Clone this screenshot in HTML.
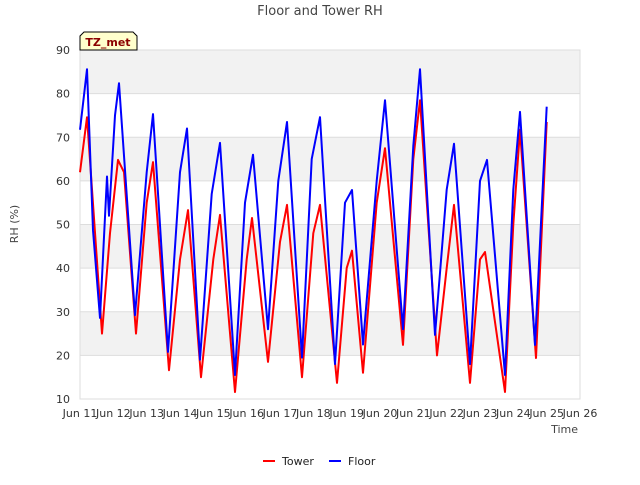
<!DOCTYPE html>
<html><head><meta charset="utf-8"><style>
body{margin:0;background:#fff;font-family:"Liberation Sans","DejaVu Sans",sans-serif}
svg text{font-family:"DejaVu Sans","Liberation Sans",sans-serif}
</style></head><body>
<svg id="c" width="640" height="480" xmlns="http://www.w3.org/2000/svg">
<text x="320" y="15" text-anchor="middle" font-size="13" fill="#444">Floor and Tower RH</text>
<g id="grid"></g>
<g id="axes"></g>
<g id="series"></g>
<g>
<path d="M80,50 L80,36 L84,32 L133,32 L137,36 L137,50 Z" fill="#ffffcc" stroke="#000" stroke-width="1"/>
<text x="108" y="46" text-anchor="middle" font-size="11" font-weight="bold" fill="#8b0000">TZ_met</text>
</g>
<text transform="translate(18,224) rotate(-90)" text-anchor="middle" font-size="11" fill="#444">RH (%)</text>
<text x="578" y="433" text-anchor="end" font-size="11" fill="#444">Time</text>
<g>
<line x1="263" y1="461" x2="275" y2="461" stroke="#ff0000" stroke-width="2"/>
<text x="282" y="465" font-size="11" fill="#222">Tower</text>
<line x1="329" y1="461" x2="341" y2="461" stroke="#0000ff" stroke-width="2"/>
<text x="348" y="465" font-size="11" fill="#222">Floor</text>
</g>
</svg>
<script>
const yTicks=[10,20,30,40,50,60,70,80,90];
const xTickLabels=["Jun 11","Jun 12","Jun 13","Jun 14","Jun 15","Jun 16","Jun 17","Jun 18","Jun 19","Jun 20","Jun 21","Jun 22","Jun 23","Jun 24","Jun 25","Jun 26"];
// day offsets since Jun 11 00:00
const floorDays=[0,0.21,0.39,0.6,0.81,0.87,1.05,1.17,1.65,2.0,2.19,2.64,3.0,3.21,3.6,3.95,4.2,4.65,4.95,5.19,5.64,5.95,6.21,6.66,6.95,7.2,7.65,7.95,8.16,8.49,8.9,9.15,9.69,10.0,10.2,10.65,11.0,11.22,11.7,12.0,12.21,12.75,13.0,13.2,13.65,14.0];
const floorVals=[71.7,85.6,48.7,28.6,61,52,75,82.4,29.2,62,75.3,20.8,62,72,19,57,68.7,15.5,55,66,26,60,73.5,19.5,65,74.6,18,55,57.9,22.5,60,78.5,26,68,85.6,24.7,58,68.5,18,60,64.8,15.5,58,75.8,22.4,77];
const towerDays=[0,0.21,0.66,0.9,1.14,1.32,1.68,2.0,2.19,2.67,3.0,3.24,3.63,4.0,4.2,4.65,5.0,5.16,5.64,6.0,6.21,6.66,7.0,7.2,7.71,8.0,8.16,8.49,8.9,9.15,9.69,10.0,10.2,10.71,11.0,11.22,11.7,12.0,12.15,12.75,13.0,13.2,13.68,14.0];
const towerVals=[62,74.6,25,48,64.8,62,25,55,64.3,16.6,42,53.3,15,42,52.2,11.6,42,51.5,18.5,46,54.5,15,48,54.5,13.7,40,44,16,55,67.5,22.4,65,78.5,20,40,54.5,13.7,42,43.7,11.6,50,71.7,19.4,73.5];
const NS="http://www.w3.org/2000/svg";
const X0=80,X1=580,Y0=399,Y1=50;
function xs(d){return X0+(X1-X0)*d/15;}
function ys(v){return Y0-(Y0-Y1)*(v-10)/80;}
function mk(t,a,p){const e=document.createElementNS(NS,t);for(const k in a)e.setAttribute(k,a[k]);p.appendChild(e);return e;}
const grid=document.getElementById('grid'),axes=document.getElementById('axes'),ser=document.getElementById('series');
for(let i=0;i<yTicks.length-1;i++){
 const r=mk('rect',{x:X0,y:ys(yTicks[i+1]),width:X1-X0,height:ys(yTicks[i])-ys(yTicks[i+1]),fill:(i%2==1)?'#f2f2f2':'#ffffff'},grid);
 
 
}
yTicks.forEach(v=>{
 const l=mk('line',{x1:X0,x2:X1,y1:ys(v),y2:ys(v),stroke:'#dddddd','stroke-width':1},grid);
 
 
 const t=mk('text',{x:X0-10,y:ys(v)+4,'text-anchor':'end','font-size':11,fill:'#333'},axes);
 t.textContent=v;
 
 
});
mk('rect',{x:X0,y:Y1,width:X1-X0,height:Y0-Y1,fill:'none',stroke:'#dddddd'},grid);
xTickLabels.forEach((s,i)=>{
 const t=mk('text',{x:xs(i),y:Y0+18,'text-anchor':'middle','font-size':11,fill:'#333'},axes);
 t.textContent=s;
 
 
});
function line(days,vals,col,name){
 let d='';
 const n=Math.min(days.length,vals.length);
 for(let i=0;i<n;i++)d+=(i?'L':'M')+xs(days[i]).toFixed(1)+','+ys(vals[i]).toFixed(1);
 const p=mk('path',{d:d,fill:'none',stroke:col,'stroke-width':2,'stroke-linejoin':'round'},ser);
 
 
}
line(towerDays,towerVals,'#ff0000','tower-line');
line(floorDays,floorVals,'#0000ff','floor-line');
</script>
</body></html>
